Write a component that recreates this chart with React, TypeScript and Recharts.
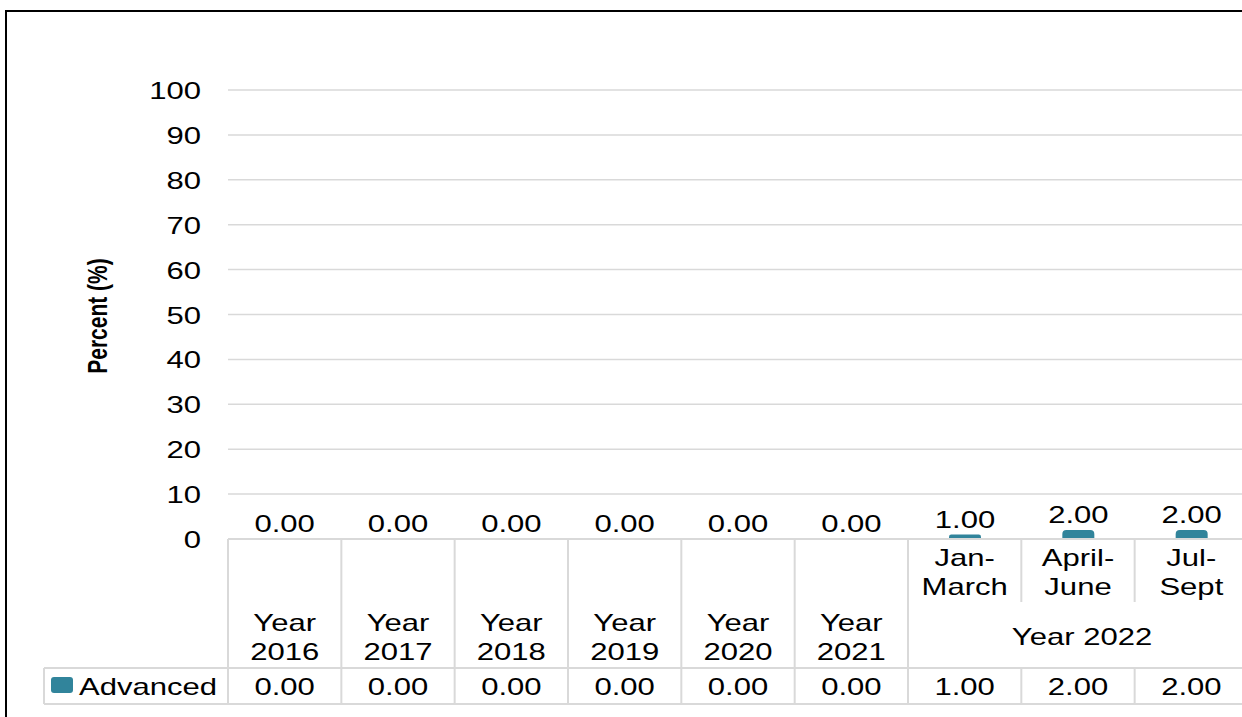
import React from "react";
import { BarChart, Bar, XAxis, YAxis, CartesianGrid, LabelList } from "recharts";

// quarter / year labels on the x axis
const categoryTop = ["", "", "", "", "", "", "Jan-", "April-", "Jul-"];
const categoryBottom = ["", "", "", "", "", "", "March", "June", "Sept"];
const yearLines1 = ["Year", "Year", "Year", "Year", "Year", "Year", "", "", ""];
const yearLines2 = ["2016", "2017", "2018", "2019", "2020", "2021", "", "", ""];
const groupLabel = "Year 2022";
const advanced = [0, 0, 0, 0, 0, 0, 1, 2, 2];
const yTicks = [0, 10, 20, 30, 40, 50, 60, 70, 80, 90, 100];
const seriesName = "Advanced";

const data = advanced.map((v, i) => ({ idx: i, value: v }));

const W = 1270;
const H = 717;
const LEFT = 228;
const RIGHT_PAD = 22;
const TOP = 90;
const AXIS_H = 178;
const PLOT_BOTTOM = H - AXIS_H; // 539
const COL_W = (W - LEFT - RIGHT_PAD) / advanced.length;

const TEAL = "#31849B";
const LINE = "#d9d9d9";
const FONT = "'Liberation Sans', Arial, sans-serif";
const FS = 23;
const SX = 1.35;

function Txt({ x, y, children, anchor = "middle", bold = false }: any) {
  return (
    <g transform={`translate(${x},${y}) scale(${SX},1)`}>
      <text x={0} y={0} textAnchor={anchor} fontFamily={FONT} fontSize={FS} fontWeight={bold ? 700 : 400} fill="#000">
        {children}
      </text>
    </g>
  );
}

function YTick(props: any) {
  const { y, payload } = props;
  return <Txt x={201} y={y + 9} anchor="end">{payload.value}</Txt>;
}

function XTick(props: any) {
  const { x, payload } = props;
  const i = payload.index ?? payload.value;
  const left = x - COL_W / 2;
  const right = x + COL_W / 2;
  const top = PLOT_BOTTOM;
  const rowTop = 668;
  const rowBot = 704;
  const inGroup = i >= 6;
  const splitLine = inGroup && i > 6;
  return (
    <g>
      {splitLine ? (
        <>
          <line x1={left} x2={left} y1={top} y2={602} stroke={LINE} strokeWidth={2} />
          <line x1={left} x2={left} y1={rowTop} y2={rowBot} stroke={LINE} strokeWidth={2} />
        </>
      ) : (
        <line x1={left} x2={left} y1={top} y2={rowBot} stroke={LINE} strokeWidth={2} />
      )}
      {i === advanced.length - 1 && (
        <line x1={right} x2={right} y1={top} y2={rowBot} stroke={LINE} strokeWidth={2} />
      )}
      {i === 0 && (
        <>
          <line x1={44} x2={W} y1={rowTop} y2={rowTop} stroke={LINE} strokeWidth={2} />
          <line x1={44} x2={W} y1={rowBot} y2={rowBot} stroke={LINE} strokeWidth={2} />
          <line x1={44} x2={44} y1={rowTop} y2={rowBot} stroke={LINE} strokeWidth={2} />
          <rect x={51} y={677} width={22} height={16} rx={3} fill={TEAL} />
          <Txt x={79} y={695} anchor="start">{seriesName}</Txt>
        </>
      )}
      {/* zero-height bars get no label from the Bar, so put their value on the baseline here */}
      {advanced[i] === 0 && <Txt x={x} y={top - 7}>{advanced[i].toFixed(2)}</Txt>}
      {categoryTop[i] && <Txt x={x} y={566}>{categoryTop[i]}</Txt>}
      {categoryBottom[i] && <Txt x={x} y={595}>{categoryBottom[i]}</Txt>}
      {yearLines1[i] && <Txt x={x} y={631}>{yearLines1[i]}</Txt>}
      {yearLines2[i] && <Txt x={x} y={660}>{yearLines2[i]}</Txt>}
      {i === 7 && <Txt x={x + 4} y={645}>{groupLabel}</Txt>}
      <Txt x={x} y={695}>{advanced[i].toFixed(2)}</Txt>
    </g>
  );
}

function ValueLabel(props: any) {
  const { x, y, width, value } = props;
  if (!value) return null;
  return <Txt x={x + width / 2} y={y - 7}>{Number(value).toFixed(2)}</Txt>;
}

export default function App() {
  return (
    <div style={{ position: "fixed", left: 0, top: 0, width: 1242, height: 717, overflow: "hidden", background: "#fff" }}>
      <div style={{ position: "absolute", left: 5, top: 10, width: 1300, height: 800, border: "2px solid #000", boxSizing: "border-box" }} />
      <div style={{ position: "absolute", left: 0, top: 0 }}>
        <BarChart width={W} height={H} data={data} margin={{ top: TOP, right: RIGHT_PAD, bottom: 0, left: 0 }}>
          <CartesianGrid vertical={false} stroke={LINE} strokeWidth={1.5} />
          <XAxis
            dataKey="idx"
            type="category"
            height={AXIS_H}
            interval={0}
            axisLine={{ stroke: LINE, strokeWidth: 2 }}
            tickLine={false}
            tick={<XTick />}
          />
          <YAxis
            width={LEFT}
            domain={[0, 100]}
            ticks={yTicks}
            axisLine={false}
            tickLine={false}
            tick={<YTick />}
            label={{
              content: () => (
                <g transform={`translate(107,316) scale(${SX},1) rotate(-90)`}>
                  <text x={0} y={0} textAnchor="middle" fontFamily={FONT} fontSize={21} fontWeight={700} fill="#000">
                    Percent (%)
                  </text>
                </g>
              ),
            }}
          />
          <Bar dataKey="value" fill={TEAL} barSize={32} radius={[4, 4, 0, 0]} isAnimationActive={false}>
            <LabelList dataKey="value" content={<ValueLabel />} />
          </Bar>
        </BarChart>
      </div>
    </div>
  );
}
